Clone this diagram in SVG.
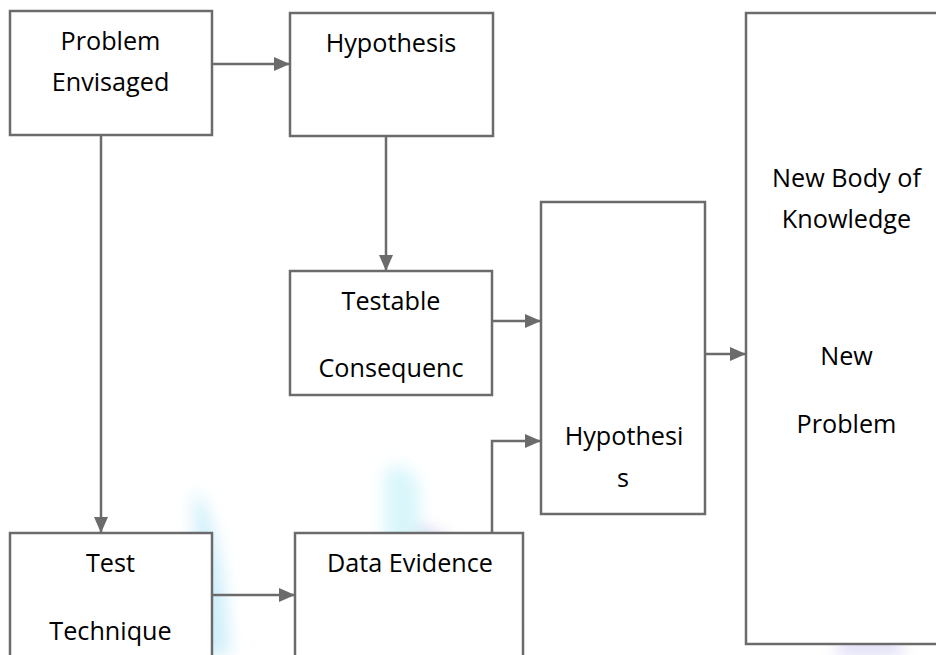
<svg xmlns="http://www.w3.org/2000/svg" width="936" height="655" viewBox="0 0 936 655">
<defs>
<marker id="ah" viewBox="0 0 16 14" refX="16" refY="7" markerWidth="16" markerHeight="14" markerUnits="userSpaceOnUse" orient="auto">
<path d="M0,0 L16,7 L0,14 Z" fill="#6b6b6b"/>
</marker>
<filter id="blur" x="-50%" y="-50%" width="200%" height="200%"><feGaussianBlur stdDeviation="8"/></filter>
</defs>
<style>
.box{fill:#ffffff;stroke:#6b6b6b;stroke-width:2.5}
.lbl{font-family:"Open Sans","Liberation Sans",sans-serif;font-size:25.2px;fill:#000;text-anchor:middle}
.con{fill:none;stroke:#6b6b6b;stroke-width:2.5;marker-end:url(#ah)}
</style>
<rect width="936" height="655" fill="#ffffff"/>
<g id="watermark" filter="url(#blur)" opacity="0.6">
<path d="M195,490 C205,500 225,540 230,655 L200,655 C198,580 192,520 195,490 Z" fill="#aee4f7"/>
<path d="M385,470 C400,460 420,470 420,500 L420,655 L385,655 Z" fill="#bff0f8"/>
<path d="M420,525 C460,540 500,590 515,655 L495,655 C480,600 450,560 420,545 Z" fill="#b9b6e6"/>
<path d="M840,640 L900,640 L905,655 L835,655 Z" fill="#c4c0ee"/>
</g>
<g id="connectors">
<line class="con" x1="212" y1="64" x2="290" y2="64"/>
<line class="con" x1="386" y1="136" x2="386" y2="271"/>
<line class="con" x1="101" y1="135" x2="101" y2="533"/>
<line class="con" x1="492" y1="321" x2="541" y2="321"/>
<polyline class="con" points="492,533 492,441 541,441"/>
<line class="con" x1="705" y1="354" x2="746" y2="354"/>
<line class="con" x1="212" y1="595" x2="295" y2="595"/>
</g>
<g id="problem-envisaged">
<rect class="box" x="10" y="11" width="202" height="124"/>
<text class="lbl" x="110.5" y="50">Problem</text>
<text class="lbl" x="110.5" y="90.5">Envisaged</text>
</g>
<g id="hypothesis-top">
<rect class="box" x="290" y="13" width="203" height="123"/>
<text class="lbl" x="391" y="52">Hypothesis</text>
</g>
<g id="testable-consequence">
<rect class="box" x="290" y="271" width="202" height="124"/>
<text class="lbl" x="391" y="310">Testable</text>
<text class="lbl" x="391" y="377">Consequenc</text>
</g>
<g id="hypothesis-mid">
<rect class="box" x="541" y="202" width="164" height="312"/>
<text class="lbl" x="624" y="445">Hypothesi</text>
<text class="lbl" x="623" y="486.5">s</text>
</g>
<g id="new-body-of-knowledge">
<rect class="box" x="746" y="13" width="200" height="631"/>
<text class="lbl" x="846.5" y="186.7">New Body of</text>
<text class="lbl" x="846.5" y="228">Knowledge</text>
<text class="lbl" x="846.5" y="365">New</text>
<text class="lbl" x="846.5" y="432.7">Problem</text>
</g>
<g id="test-technique">
<rect class="box" x="10" y="533" width="202" height="140"/>
<text class="lbl" x="110.5" y="572">Test</text>
<text class="lbl" x="110.5" y="640">Technique</text>
</g>
<g id="data-evidence">
<rect class="box" x="295" y="533" width="228" height="140"/>
<text class="lbl" x="410" y="572">Data Evidence</text>
</g>
</svg>
